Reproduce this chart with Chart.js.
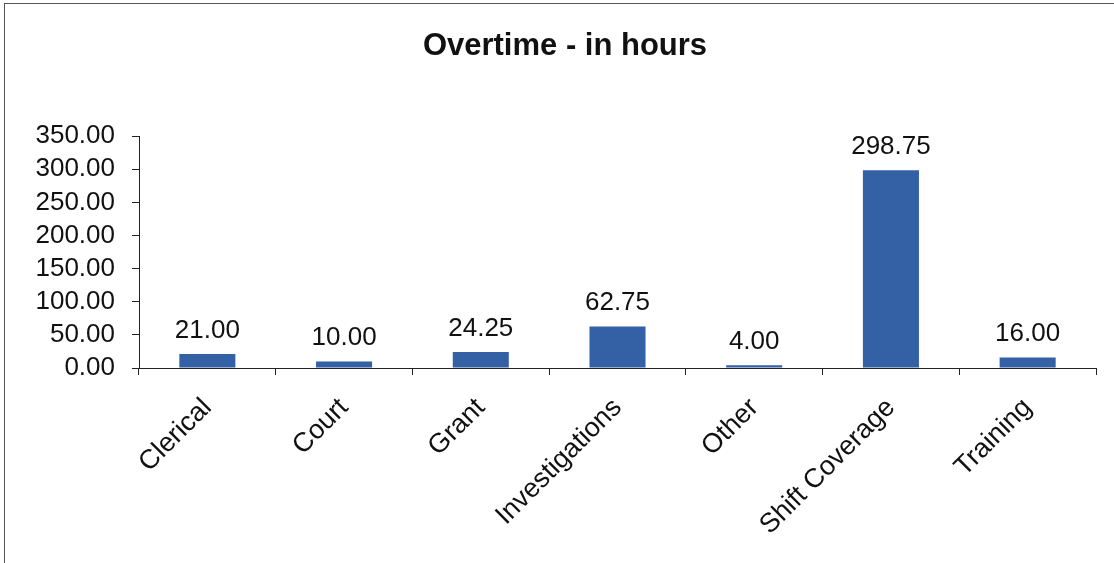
<!DOCTYPE html>
<html lang="en">
<head>
  <meta charset="UTF-8">
  <title>Overtime - in hours</title>
  <script src="https://cdn.jsdelivr.net/npm/chart.js"></script>
  <style>
    body {
      margin: 0;
      background: #fff;
      font-family: "Liberation Sans", Arial, sans-serif;
    }
    #wrap {
      position: relative;
      width: 1114px;
      height: 563px;
    }
    #frame {
      position: absolute;
      left: 4px;
      top: 3px;
      right: 0;
      bottom: 0;
      border-top: 1px solid #555;
      border-left: 1px solid #555;
      pointer-events: none;
    }
  </style>
</head>
<body>
  <div id="wrap">
    <canvas id="otChart"></canvas>
    <div id="frame"></div>
  </div>

  <script>
    const categories = ["Clerical", "Court", "Grant", "Investigations", "Other", "Shift Coverage", "Training"];
    const hours = [21.00, 10.00, 24.25, 62.75, 4.00, 298.75, 16.00];
    const yTicks = [0, 50, 100, 150, 200, 250, 300, 350];

    const FONT = "'Liberation Sans', Arial, sans-serif";

    // value labels above each bar
    const barLabels = {
      id: 'barLabels',
      afterDatasetsDraw(chart) {
        const c = chart.ctx;
        const meta = chart.getDatasetMeta(0);
        c.save();
        c.font = "26px " + FONT;
        c.fillStyle = "#111";
        c.textAlign = "center";
        c.textBaseline = "alphabetic";
        meta.data.forEach((bar, i) => {
          c.fillText(hours[i].toFixed(2), bar.x, bar.y - 16);
        });
        c.restore();
      }
    };

    const ctx = document.getElementById('otChart').getContext('2d');
    const otChart = new Chart(ctx, {
      type: 'bar',
      data: {
        labels: categories,
        datasets: [{
          label: 'Overtime',
          data: hours,
          backgroundColor: 'rgb(52,96,165)',
          borderWidth: 0,
          categoryPercentage: 1,
          barPercentage: 0.41
        }]
      },
      options: {
        animation: false,
        responsive: true,
        maintainAspectRatio: false,
        layout: { padding: { left: 34, right: 18, top: 0, bottom: 0 } },
        plugins: {
          legend: { display: false },
          tooltip: { enabled: false },
          title: {
            display: true,
            text: 'Overtime - in hours',
            color: '#111',
            font: { family: FONT, size: 31, weight: 'bold', lineHeight: 1.2 },
            padding: { top: 28, bottom: 71 }
          }
        },
        scales: {
          x: {
            afterFit(scale) { scale.height = 195; },
            grid: { offset: true, drawOnChartArea: false, tickLength: 7, tickColor: '#222' },
            border: { color: '#222', width: 1 },
            ticks: {
              color: '#111',
              font: { family: FONT, size: 27 },
              minRotation: 45,
              maxRotation: 45,
              autoSkip: false,
              padding: 17
            }
          },
          y: {
            min: 0,
            max: 350,
            afterFit(scale) { scale.width = 105; },
            afterBuildTicks(scale) { scale.ticks = yTicks.map(v => ({ value: v })); },
            grid: { drawOnChartArea: false, tickLength: 7, tickColor: '#222' },
            border: { color: '#222', width: 1 },
            ticks: {
              color: '#111',
              font: { family: FONT, size: 26 },
              padding: 17,
              autoSkip: false,
              callback: v => Number(v).toFixed(2)
            }
          }
        }
      },
      plugins: [barLabels]
    });
  </script>
</body>
</html>
